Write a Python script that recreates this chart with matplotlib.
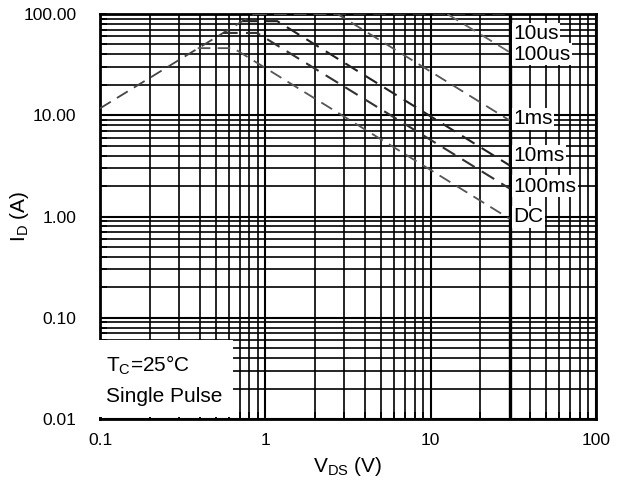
import matplotlib
matplotlib.use("Agg")
import matplotlib.pyplot as plt
from matplotlib.ticker import FixedLocator, LogLocator, NullFormatter

plt.rcParams['font.family'] = ['Liberation Sans', 'DejaVu Sans']

# data (V in volts, I in amps)
rds_v = [0.1, 0.855]
rds_i = [11.7, 100.0]

v_10us = [0.855, 30]
i_10us = [100.0, 100.0]
v_100us = [12.6, 30]
i_100us = [100.0, 42.0]
v_1ms = [0.855, 2.73, 30]
i_1ms = [100.0, 100.0, 8.9]
v_10ms = [0.73, 1.18, 30]
i_10ms = [85.0, 85.0, 3.2]
v_100ms = [0.555, 0.89, 30]
i_100ms = [65.0, 65.0, 1.89]
v_dc = [0.39, 0.64, 30]
i_dc = [46.0, 46.0, 0.95]

labels = ["10us", "100us", "1ms", "10ms", "100ms", "DC"]
label_i = [64.0, 40.0, 9.2, 4.0, 2.0, 0.99]

yticks = [0.01, 0.1, 1, 10, 100]
yticklabels = ["0.01", "0.10", "1.00", "10.00", "100.00"]
xticks = [0.1, 1, 10, 100]
xticklabels = ["0.1", "1", "10", "100"]

fig = plt.figure(figsize=(6.27, 4.88), dpi=100)
ax = fig.add_axes([0.1595, 0.1414, 0.7911, 0.8299])
ax.set_xscale('log')
ax.set_yscale('log')
ax.set_xlim(0.1, 100)
ax.set_ylim(0.01, 100)

ax.grid(True, which='major', color='black', lw=1.5)
ax.grid(True, which='minor', color='black', lw=1.2)
ax.axvline(30, color='black', lw=2.4, zorder=2)

ax.xaxis.set_minor_locator(LogLocator(base=10, subs=range(2, 10)))
ax.yaxis.set_minor_locator(LogLocator(base=10, subs=range(2, 10)))
ax.xaxis.set_minor_formatter(NullFormatter())
ax.yaxis.set_minor_formatter(NullFormatter())
ax.xaxis.set_major_locator(FixedLocator(xticks))
ax.yaxis.set_major_locator(FixedLocator(yticks))
ax.set_xticklabels(xticklabels)
ax.set_yticklabels(yticklabels)
ax.tick_params(which='both', direction='in', labelsize=12.5, length=5, width=1.2)
ax.tick_params(axis='x', pad=10)
ax.tick_params(axis='y', pad=17)

dash = (0, (7, 4))
ax.plot(rds_v, rds_i, color='#444444', lw=1.3, linestyle=dash, zorder=3)
ax.plot(v_10us, i_10us, color='#333333', lw=1.3, linestyle=dash, zorder=3)
ax.plot(v_100us, i_100us, color='#666666', lw=1.3, linestyle=dash, zorder=3)
ax.plot(v_1ms, i_1ms, color='#555555', lw=1.3, linestyle=dash, zorder=3)
ax.plot(v_10ms, i_10ms, color='#222222', lw=1.5, linestyle=dash, zorder=3)
ax.plot(v_100ms, i_100ms, color='#333333', lw=1.5, linestyle=dash, zorder=3)
ax.plot(v_dc, i_dc, color='#555555', lw=1.3, linestyle=dash, zorder=3)

for lab, yy in zip(labels, label_i):
    ax.text(31.5, yy, lab, fontsize=15, va='center', ha='left', zorder=4,
            bbox=dict(facecolor='white', edgecolor='none', pad=1.0))

ax.text(0.108, 0.0245, "T$_\\mathregular{C}$=25°C\nSingle Pulse", fontsize=15,
        va='center', ha='left', zorder=4, linespacing=1.7,
        bbox=dict(facecolor='white', edgecolor='none', pad=8))

for s in ax.spines.values():
    s.set_linewidth(2)

ax.set_xlabel("V$_\\mathregular{DS}$ (V)", fontsize=15, labelpad=5)
ax.set_ylabel("I$_\\mathregular{D}$ (A)", fontsize=15, va='center')
ax.yaxis.set_label_coords(-0.163, 0.5)

fig.savefig("out.png", dpi=100)
